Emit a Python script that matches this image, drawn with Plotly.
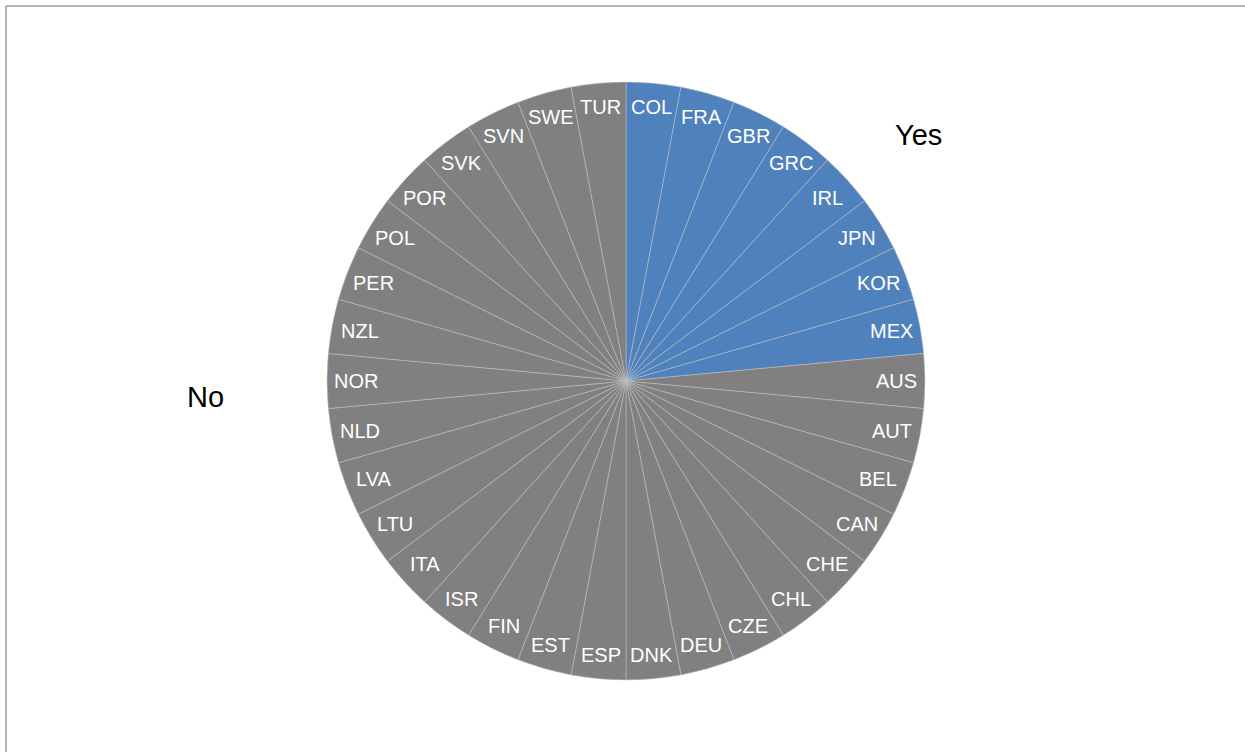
import math
import plotly.graph_objects as go

# Countries in clockwise order starting at 12 o'clock
countries = ["COL", "FRA", "GBR", "GRC", "IRL", "JPN", "KOR", "MEX",
             "AUS", "AUT", "BEL", "CAN", "CHE", "CHL", "CZE", "DEU",
             "DNK", "ESP", "EST", "FIN", "ISR", "ITA", "LTU", "LVA",
             "NLD", "NOR", "NZL", "PER", "POL", "POR", "SVK", "SVN",
             "SWE", "TUR"]
answers = ["Yes"] * 8 + ["No"] * 26
values = [1] * len(countries)

group_colors = {"Yes": "#4f81bd", "No": "#808080"}

W, H = 1245, 752
cx, cy, R = 626, 381, 299          # pie centre and radius in pixels
pad = 11                            # gap between label box and the rim
half_w, half_h = 18, 13             # approximate half size of a label box

narrow = "Liberation Sans Narrow, Arial Narrow, Liberation Sans, Arial, sans-serif"

fig = go.Figure(go.Pie(
    labels=countries,
    values=values,
    sort=False,
    direction="clockwise",
    rotation=0,
    textinfo="none",
    hoverinfo="label",
    marker=dict(colors=[group_colors[a] for a in answers],
                line=dict(color="#c4c4c4", width=0.5)),
    domain=dict(x=[(cx - R) / W, (cx + R) / W],
                y=[1 - (cy + R) / H, 1 - (cy - R) / H]),
    showlegend=False,
))

# Slice labels placed at the inside end of each slice
total = sum(values)
annotations = []
cum = 0.0
for name, v in zip(countries, values):
    mid = (cum + v / 2) / total * 2 * math.pi
    cum += v
    s, c = math.sin(mid), math.cos(mid)
    r = R - pad - math.hypot(s * half_w, c * half_h)
    px = cx + r * s
    py = cy - r * c
    annotations.append(dict(
        x=px / W, y=1 - py / H, xref="paper", yref="paper",
        text=name, showarrow=False,
        font=dict(family=narrow, size=20, color="white"),
        xanchor="center", yanchor="middle",
    ))

# Group labels
annotations.append(dict(x=918 / W, y=1 - 135 / H, xref="paper", yref="paper",
                        text="Yes", showarrow=False,
                        font=dict(family=narrow, size=29, color="black"),
                        xanchor="center", yanchor="middle"))
annotations.append(dict(x=205 / W, y=1 - 397 / H, xref="paper", yref="paper",
                        text="No", showarrow=False,
                        font=dict(family=narrow, size=29, color="black"),
                        xanchor="center", yanchor="middle"))

# Chart frame (left and top edges)
frame = dict(color="#9a9a9a", width=1.5)
shapes = [
    dict(type="line", xref="paper", yref="paper",
         x0=6 / W, x1=6 / W, y0=0, y1=1 - 6 / H, line=frame),
    dict(type="line", xref="paper", yref="paper",
         x0=6 / W, x1=1, y0=1 - 6 / H, y1=1 - 6 / H, line=frame),
]

fig.update_layout(
    width=W, height=H,
    margin=dict(l=0, r=0, t=0, b=0),
    paper_bgcolor="white",
    plot_bgcolor="white",
    annotations=annotations,
    shapes=shapes,
)

fig.write_html("out.html")
